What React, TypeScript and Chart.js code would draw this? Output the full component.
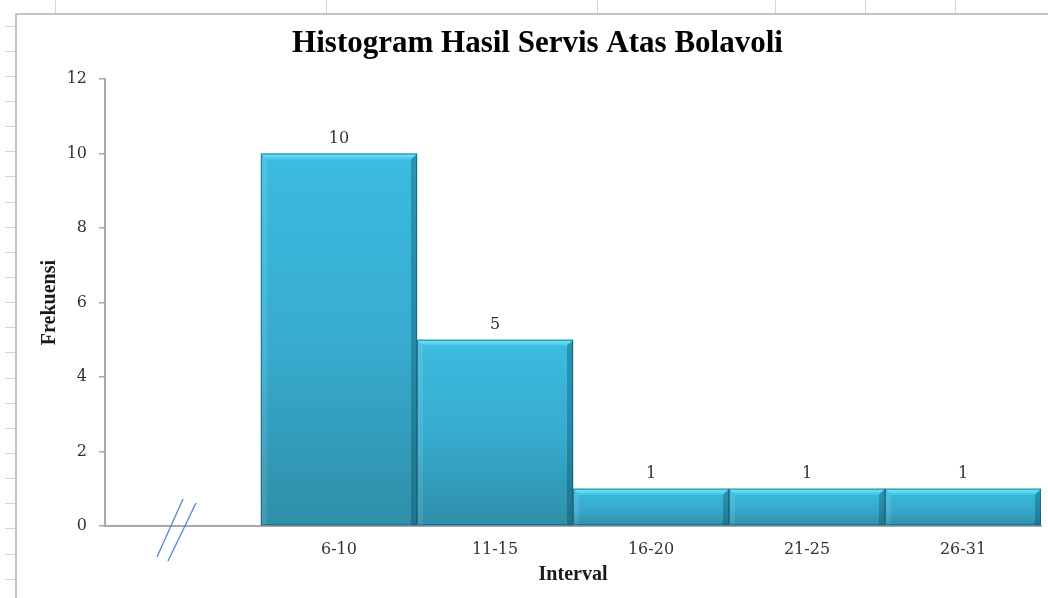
import React, { useEffect, useRef } from 'react';
import { Chart, registerables } from 'chart.js';

Chart.register(...registerables);

// ---- data ----
const CATEGORIES: string[] = ['', '6-10', '11-15', '16-20', '21-25', '26-31'];
const FREQUENCIES: (number | null)[] = [null, 10, 5, 1, 1, 1];
const Y_TICKS: number[] = [0, 2, 4, 6, 8, 10, 12];
const TITLE = 'Histogram Hasil Servis Atas Bolavoli';
const X_TITLE = 'Interval';
const Y_TITLE = 'Frekuensi';

const SERIF = '"Liberation Serif", "Times New Roman", Times, serif';
const LABEL_SERIF = '"DejaVu Serif", "Liberation Serif", serif';
const W = 1048;
const H = 598;

// spreadsheet-like backdrop (cell grid stubs and chart frame)
const sheetPlugin = {
  id: 'sheet',
  beforeDraw(chart: any) {
    const ctx = chart.ctx;
    ctx.save();
    ctx.fillStyle = '#ffffff';
    ctx.fillRect(0, 0, chart.width, chart.height);
    ctx.strokeStyle = '#d6d6d6';
    ctx.lineWidth = 1;
    ctx.beginPath();
    for (let y = 25.5; y < chart.height; y += 25.15) {
      ctx.moveTo(5, Math.round(y) + 0.5);
      ctx.lineTo(15, Math.round(y) + 0.5);
    }
    [55, 326, 597, 775, 865, 955].forEach((x) => {
      ctx.moveTo(x + 0.5, 0);
      ctx.lineTo(x + 0.5, 13);
    });
    ctx.stroke();
    ctx.strokeStyle = '#c4c4c4';
    ctx.lineWidth = 2;
    ctx.beginPath();
    ctx.moveTo(16, chart.height);
    ctx.lineTo(16, 14);
    ctx.lineTo(chart.width, 14);
    ctx.stroke();
    ctx.restore();
  },
};

// bevel + value labels + axis break marks
const decorPlugin = {
  id: 'decor',
  afterDatasetsDraw(chart: any) {
    const ctx = chart.ctx;
    const meta = chart.getDatasetMeta(0);
    const values = chart.data.datasets[0].data;
    ctx.save();
    meta.data.forEach((el: any, i: number) => {
      const v = values[i];
      if (v === null || v === undefined) return;
      const { x, y, base, width } = el.getProps(['x', 'y', 'base', 'width'], true);
      const l = x - width / 2;
      const r = x + width / 2;
      const t = y;
      const b = base;
      const bv = 6;
      // top bevel
      const g = ctx.createLinearGradient(0, t, 0, t + bv);
      g.addColorStop(0, '#86f2fc');
      g.addColorStop(0.35, '#62dcf3');
      g.addColorStop(1, '#42c3e4');
      ctx.fillStyle = g;
      ctx.beginPath();
      ctx.moveTo(l, t);
      ctx.lineTo(r, t);
      ctx.lineTo(r - bv, t + bv);
      ctx.lineTo(l + bv, t + bv);
      ctx.closePath();
      ctx.fill();
      // left bevel
      ctx.fillStyle = 'rgba(255,255,255,0.10)';
      ctx.beginPath();
      ctx.moveTo(l, t);
      ctx.lineTo(l + bv, t + bv);
      ctx.lineTo(l + bv, b);
      ctx.lineTo(l, b);
      ctx.closePath();
      ctx.fill();
      // right bevel
      ctx.fillStyle = 'rgba(0,45,65,0.28)';
      ctx.beginPath();
      ctx.moveTo(r, t);
      ctx.lineTo(r - bv, t + bv);
      ctx.lineTo(r - bv, b);
      ctx.lineTo(r, b);
      ctx.closePath();
      ctx.fill();
      // outline
      ctx.strokeStyle = 'rgba(20,95,115,0.7)';
      ctx.lineWidth = 1;
      ctx.strokeRect(l + 0.5, t + 0.5, width - 1, b - t - 1);
      // value label
      ctx.fillStyle = '#333333';
      ctx.font = `16px ${LABEL_SERIF}`;
      ctx.textAlign = 'center';
      ctx.textBaseline = 'alphabetic';
      ctx.fillText(String(v), x, t - 11);
    });

    // axis break marks in the empty first category
    const xs = chart.scales.x;
    const ys = chart.scales.y;
    const cx = xs.getPixelForValue(0);
    const cy = ys.getPixelForValue(0);
    ctx.strokeStyle = '#5b8bd3';
    ctx.lineWidth = 1.4;
    ctx.beginPath();
    ctx.moveTo(cx - 26, cy + 31);
    ctx.lineTo(cx, cy - 27);
    ctx.moveTo(cx - 15, cy + 35);
    ctx.lineTo(cx + 13, cy - 23);
    ctx.stroke();
    ctx.restore();
  },
};

function barFill(c: any) {
  const chart = c.chart;
  const v = c.raw;
  if (!chart.chartArea || v === null || v === undefined) return '#38aed0';
  const ys = chart.scales.y;
  const top = ys.getPixelForValue(v);
  const bottom = ys.getPixelForValue(0);
  const g = chart.ctx.createLinearGradient(0, top, 0, bottom);
  g.addColorStop(0, '#3bbcdf');
  g.addColorStop(0.5, '#37acd0');
  g.addColorStop(1, '#2e8ea8');
  return g;
}

export default function App() {
  const ref = useRef<HTMLCanvasElement | null>(null);

  useEffect(() => {
    document.body.style.margin = '0';
    document.body.style.overflow = 'hidden';
    const canvas = ref.current;
    if (!canvas) return;
    const chart = new Chart(canvas, {
      type: 'bar',
      data: {
        labels: CATEGORIES,
        datasets: [
          {
            label: Y_TITLE,
            data: FREQUENCIES,
            backgroundColor: barFill,
            borderWidth: 0,
            categoryPercentage: 1,
            barPercentage: 1,
          },
        ],
      },
      options: {
        responsive: false,
        animation: false,
        devicePixelRatio: 1,
        layout: { padding: { left: 34, right: 7, top: 25, bottom: 0 } },
        plugins: {
          legend: { display: false },
          tooltip: { enabled: false },
          title: {
            display: true,
            text: TITLE,
            color: '#000000',
            font: { family: SERIF, size: 31, weight: 'bold' },
            padding: { top: 0, bottom: 17 },
          },
        },
        scales: {
          x: {
            afterFit: (s: any) => {
              s.height = 72;
            },
            grid: { display: false, drawTicks: false },
            border: { display: true, color: '#a8a8a8', width: 2 },
            ticks: {
              color: '#333333',
              font: { family: LABEL_SERIF, size: 16 },
              padding: 14,
              maxRotation: 0,
              autoSkip: false,
            },
            title: {
              display: true,
              text: X_TITLE,
              color: '#1a1a1a',
              font: { family: SERIF, size: 20, weight: 'bold' },
              padding: { top: 11, bottom: 11 },
            },
          },
          y: {
            min: 0,
            max: 12,
            afterFit: (s: any) => {
              s.width = 71;
            },
            afterBuildTicks: (s: any) => {
              s.ticks = Y_TICKS.map((v) => ({ value: v }));
            },
            grid: {
              drawOnChartArea: false,
              drawTicks: true,
              tickLength: 6,
              color: '#a8a8a8',
              lineWidth: 1.5,
            },
            border: { display: true, color: '#a8a8a8', width: 2 },
            ticks: {
              color: '#333333',
              font: { family: LABEL_SERIF, size: 16 },
              padding: 12,
            },
            title: {
              display: true,
              text: Y_TITLE,
              color: '#1a1a1a',
              font: { family: SERIF, size: 20, weight: 'bold' },
              padding: { top: 4, bottom: 4 },
            },
          },
        },
      },
      plugins: [sheetPlugin, decorPlugin],
    } as any);
    return () => chart.destroy();
  }, []);

  return (
    <div style={{ width: W, height: H, position: 'relative', overflow: 'hidden' }}>
      <canvas ref={ref} width={W} height={H} style={{ display: 'block' }} />
    </div>
  );
}
